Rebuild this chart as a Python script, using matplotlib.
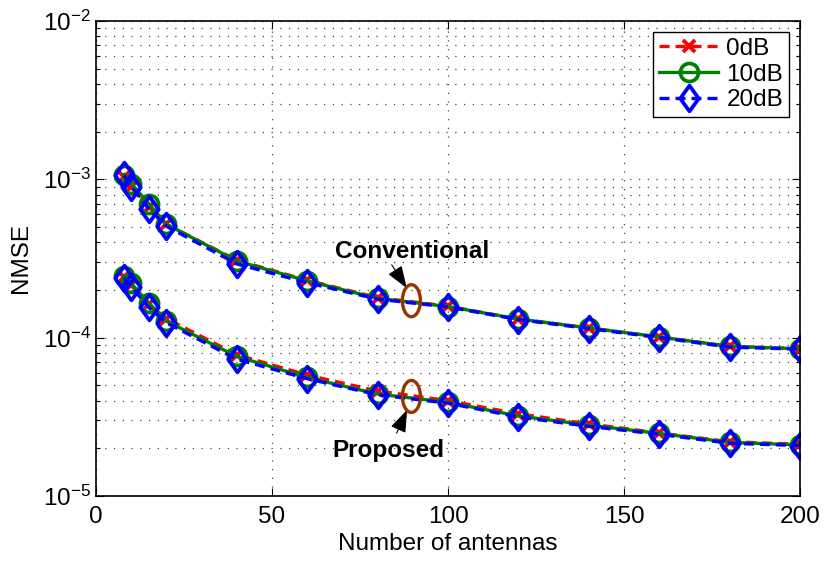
import matplotlib
matplotlib.use("Agg")
import matplotlib.pyplot as plt
from matplotlib.patches import Ellipse
from matplotlib.path import Path
from matplotlib.transforms import ScaledTranslation
from matplotlib.ticker import LogLocator, NullFormatter, MultipleLocator

plt.rcParams['font.family'] = ['Liberation Sans', 'DejaVu Sans']
plt.rcParams['mathtext.fontset'] = 'custom'
plt.rcParams['mathtext.rm'] = 'Liberation Sans'

# Number of base-station antennas
antennas = [8, 10, 15, 20, 40, 60, 80, 100, 120, 140, 160, 180, 200]

# NMSE of the conventional estimator
conv_0dB = [1.03e-3, 9.0e-4, 6.7e-4, 5.2e-4, 3.08e-4, 2.30e-4, 1.79e-4, 1.58e-4, 1.31e-4, 1.15e-4, 1.01e-4, 8.8e-5, 8.5e-5]
conv_10dB = [1.07e-3, 9.4e-4, 7.0e-4, 5.2e-4, 3.05e-4, 2.28e-4, 1.77e-4, 1.57e-4, 1.31e-4, 1.15e-4, 1.01e-4, 8.8e-5, 8.5e-5]
conv_20dB = [1.06e-3, 9.0e-4, 6.5e-4, 5.05e-4, 2.92e-4, 2.22e-4, 1.75e-4, 1.56e-4, 1.30e-4, 1.14e-4, 1.00e-4, 8.7e-5, 8.45e-5]

# NMSE of the proposed estimator
prop_0dB = [2.40e-4, 2.15e-4, 1.62e-4, 1.32e-4, 7.8e-5, 5.8e-5, 4.6e-5, 4.0e-5, 3.3e-5, 2.85e-5, 2.5e-5, 2.2e-5, 2.12e-5]
prop_10dB = [2.45e-4, 2.2e-4, 1.65e-4, 1.27e-4, 7.6e-5, 5.6e-5, 4.4e-5, 3.9e-5, 3.2e-5, 2.8e-5, 2.48e-5, 2.18e-5, 2.1e-5]
prop_20dB = [2.38e-4, 2.1e-4, 1.55e-4, 1.24e-4, 7.3e-5, 5.5e-5, 4.35e-5, 3.85e-5, 3.15e-5, 2.75e-5, 2.45e-5, 2.15e-5, 2.08e-5]

snr_labels = ['0dB', '10dB', '20dB']

FS = 17.5

fig = plt.figure(figsize=(8.24, 5.61), dpi=100)
ax = fig.add_axes([0.1165, 0.116, 0.8544, 0.8467])

# Broad diamond marker
diamond = Path([(0, 1), (0.72, 0), (0, -1), (-0.72, 0), (0, 1)],
               [Path.MOVETO, Path.LINETO, Path.LINETO, Path.LINETO, Path.CLOSEPOLY])

lw = 2.4
dash = (0, (3, 1.8))
style_0 = dict(color='red', linestyle=dash, marker='x', markersize=9, markeredgewidth=2.8, linewidth=lw)
style_10 = dict(color='#008000', linestyle='-', marker='o', markersize=13, markeredgewidth=2.7,
                markerfacecolor='none', linewidth=lw)
style_20 = dict(color='blue', linestyle=dash, marker=diamond, markersize=18.5, markeredgewidth=2.7,
                markerfacecolor='none', linewidth=lw)

h0, = ax.plot(antennas, conv_0dB, label=snr_labels[0], **style_0)
ax.plot(antennas, prop_0dB, **style_0)
h1, = ax.plot(antennas, conv_10dB, label=snr_labels[1], **style_10)
ax.plot(antennas, prop_10dB, **style_10)
h2, = ax.plot(antennas, conv_20dB, label=snr_labels[2], **style_20)
ax.plot(antennas, prop_20dB, **style_20)

ax.set_yscale('log')
ax.set_xlim(0, 200)
ax.set_ylim(1e-5, 1e-2)
ax.xaxis.set_major_locator(MultipleLocator(50))
ax.yaxis.set_major_locator(LogLocator(base=10, numticks=10))
ax.yaxis.set_minor_locator(LogLocator(base=10, subs=range(2, 10), numticks=10))
ax.yaxis.set_minor_formatter(NullFormatter())

grid_style = dict(linestyle=(0, (1, 6)), color='#444444', linewidth=0.9)
ax.grid(True, which='major', axis='both', **grid_style)
ax.grid(True, which='minor', axis='y', **grid_style)

ax.tick_params(which='both', direction='in', top=True, right=True, labelsize=FS)
ax.tick_params(which='major', length=6, width=0.8)
ax.tick_params(which='minor', length=3, width=0.8)
ax.tick_params(axis='x', pad=7)
for s in ax.spines.values():
    s.set_linewidth(1.2)

ax.set_xlabel('Number of antennas', fontsize=FS, labelpad=4)
ax.set_ylabel('NMSE', fontsize=FS, labelpad=8)

leg = ax.legend(handles=[h0, h1, h2], loc='upper right', fontsize=FS, handlelength=2.4,
                fancybox=False, framealpha=1, edgecolor='black', borderpad=0.25,
                labelspacing=0.15, handletextpad=0.35, borderaxespad=0.45)
leg.get_frame().set_linewidth(1.0)

# Ellipses grouping the curves
brown = '#993300'
for yc in (1.71e-4, 4.25e-5):
    tr = fig.dpi_scale_trans + ScaledTranslation(89.6, yc, ax.transData)
    ax.add_patch(Ellipse((0, 0), 0.18, 0.32, transform=tr, fill=False,
                         edgecolor=brown, linewidth=2.4, zorder=5))

arrow = dict(arrowstyle='-|>,head_length=1.4,head_width=0.5', color='black', lw=0.8,
             shrinkA=0, shrinkB=0)
ax.annotate('', xy=(88.3, 2.05e-4), xytext=(84.0, 2.88e-4), arrowprops=arrow)
ax.text(89.7, 3.18e-4, 'Conventional', fontsize=FS, fontweight='bold', ha='center', va='baseline')
ax.annotate('', xy=(88.4, 3.50e-5), xytext=(85.4, 2.49e-5), arrowprops=arrow)
ax.text(83.2, 1.76e-5, 'Proposed', fontsize=FS, fontweight='bold', ha='center', va='baseline')

fig.savefig('out.png', dpi=100)
